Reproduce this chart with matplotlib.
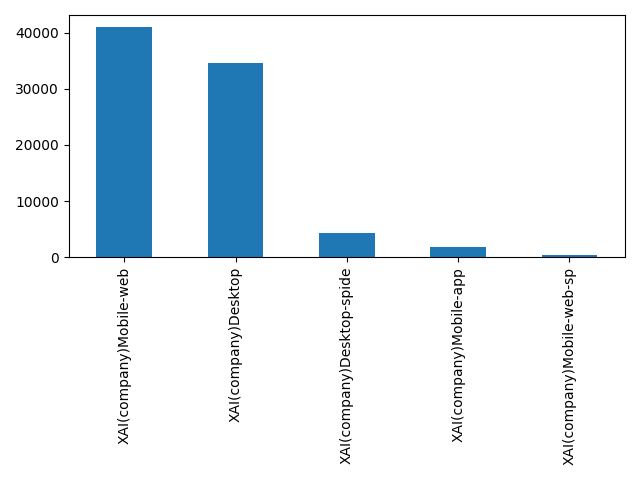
import pandas as pd
import matplotlib.pyplot as plt

# category labels and counts
labels = ['XAI(company)Mobile-web', 'XAI(company)Desktop', 'XAI(company)Desktop-spide',
          'XAI(company)Mobile-app', 'XAI(company)Mobile-web-sp']
counts = [41100, 34650, 4250, 1750, 320]

s = pd.Series(counts, index=labels)

fig = plt.figure(figsize=(6.4, 4.8), dpi=100)
s.plot(kind='bar')
plt.tight_layout()
plt.savefig('out.png')
